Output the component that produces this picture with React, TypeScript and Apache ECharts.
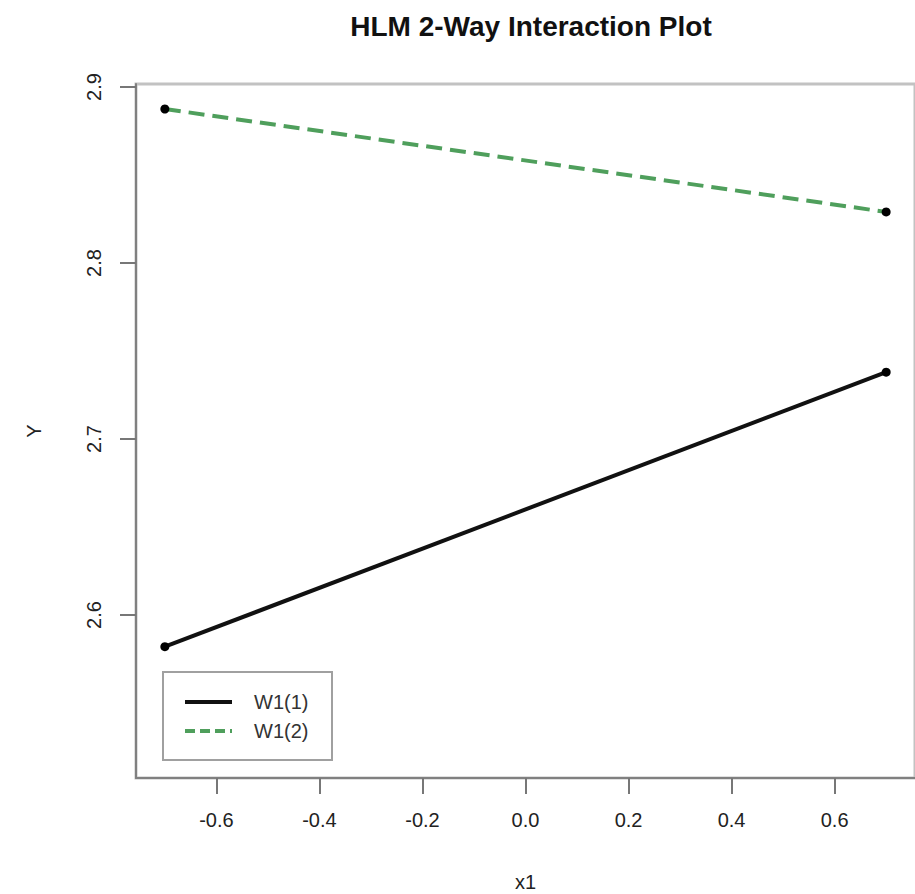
import React, { useEffect, useRef } from "react";
import * as echarts from "echarts";

const xValues = [-0.7, 0.7];
const w1Low = [2.582, 2.738];
const w1High = [2.8875, 2.829];
const xTicks = [-0.6, -0.4, -0.2, 0.0, 0.2, 0.4, 0.6];
const yTicks = [2.6, 2.7, 2.8, 2.9];
const seriesNames = ["W1(1)", "W1(2)"];
const titleText = "HLM 2-Way Interaction Plot";

const FONT = "'Liberation Sans', Arial, Helvetica, sans-serif";

export default function App() {
  const ref = useRef<HTMLDivElement>(null);
  useEffect(() => {
    if (!ref.current) return;
    const chart = echarts.init(ref.current, null, { renderer: "svg" });
    const gridLeft = 136;
    const gridTop = 84;
    const gridWidth = 779;
    const gridHeight = 694;
    chart.setOption({
      animation: false,
      backgroundColor: "#ffffff",
      title: {
        text: titleText,
        left: 526,
        top: 7,
        textAlign: "center",
        textStyle: { fontFamily: FONT, fontSize: 28, fontWeight: "bold", color: "#111" },
      },
      grid: {
        left: gridLeft,
        top: gridTop,
        width: gridWidth,
        height: gridHeight,
        outerBoundsMode: "none",
        containLabel: false,
        show: true,
        borderColor: "#c2c2c2",
        borderWidth: 3,
        backgroundColor: "transparent",
      },
      xAxis: {
        type: "value",
        min: -0.756,
        max: 0.756,
        name: "x1",
        nameLocation: "middle",
        nameGap: 94,
        nameTextStyle: { fontFamily: FONT, fontSize: 20, color: "#222" },
        axisLine: { show: true, onZero: false, lineStyle: { color: "#808080", width: 2 } },
        axisTick: {
          show: true,
          length: 16,
          customValues: xTicks,
          lineStyle: { color: "#777", width: 2 },
        },
        axisLabel: {
          customValues: xTicks,
          margin: 32,
          fontFamily: FONT,
          fontSize: 20,
          color: "#222",
          formatter: (v: number) => v.toFixed(1),
        },
        splitLine: { show: false },
      },
      yAxis: {
        type: "value",
        min: 2.5074,
        max: 2.9017,
        name: "Y",
        nameLocation: "middle",
        nameGap: 92,
        nameRotate: 90,
        nameTextStyle: { fontFamily: FONT, fontSize: 20, color: "#222" },
        axisLine: { show: true, onZero: false, lineStyle: { color: "#808080", width: 2 } },
        axisTick: {
          show: true,
          length: 16,
          customValues: yTicks,
          lineStyle: { color: "#777", width: 2 },
        },
        axisLabel: {
          customValues: yTicks,
          rotate: 90,
          margin: 32,
          fontFamily: FONT,
          fontSize: 20,
          color: "#222",
          formatter: (v: number) => v.toFixed(1),
        },
        splitLine: { show: false },
      },
      series: [
        {
          name: seriesNames[0],
          type: "line",
          data: xValues.map((x, i) => [x, w1Low[i]]),
          symbol: "circle",
          symbolSize: 9,
          itemStyle: { color: "#000" },
          lineStyle: { color: "#111", width: 4, type: "solid" },
        },
        {
          name: seriesNames[1],
          type: "line",
          data: xValues.map((x, i) => [x, w1High[i]]),
          symbol: "circle",
          symbolSize: 9,
          itemStyle: { color: "#000" },
          lineStyle: { color: "#4f9f5c", width: 4, type: [16, 8] },
        },
      ],
      graphic: [
        {
          type: "rect",
          shape: { x: 163, y: 672, width: 169, height: 88 },
          style: { fill: "#fff", stroke: "#a0a0a0", lineWidth: 2 },
          z: 10,
        },
        {
          type: "line",
          shape: { x1: 185, y1: 702, x2: 232, y2: 702 },
          style: { stroke: "#111", lineWidth: 4 },
          z: 11,
        },
        {
          type: "line",
          shape: { x1: 185, y1: 731, x2: 232, y2: 731 },
          style: { stroke: "#4f9f5c", lineWidth: 4, lineDash: [10, 5] },
          z: 11,
        },
        {
          type: "text",
          x: 254,
          y: 702,
          style: {
            text: seriesNames[0],
            font: `20px ${FONT}`,
            fill: "#333",
            verticalAlign: "middle",
            align: "left",
          },
          z: 11,
        },
        {
          type: "text",
          x: 254,
          y: 731,
          style: {
            text: seriesNames[1],
            font: `20px ${FONT}`,
            fill: "#333",
            verticalAlign: "middle",
            align: "left",
          },
          z: 11,
        },
      ],
    });
    return () => chart.dispose();
  }, []);
  return (
    <div
      ref={ref}
      style={{ position: "absolute", left: 0, top: 0, width: 915, height: 894 }}
    />
  );
}
